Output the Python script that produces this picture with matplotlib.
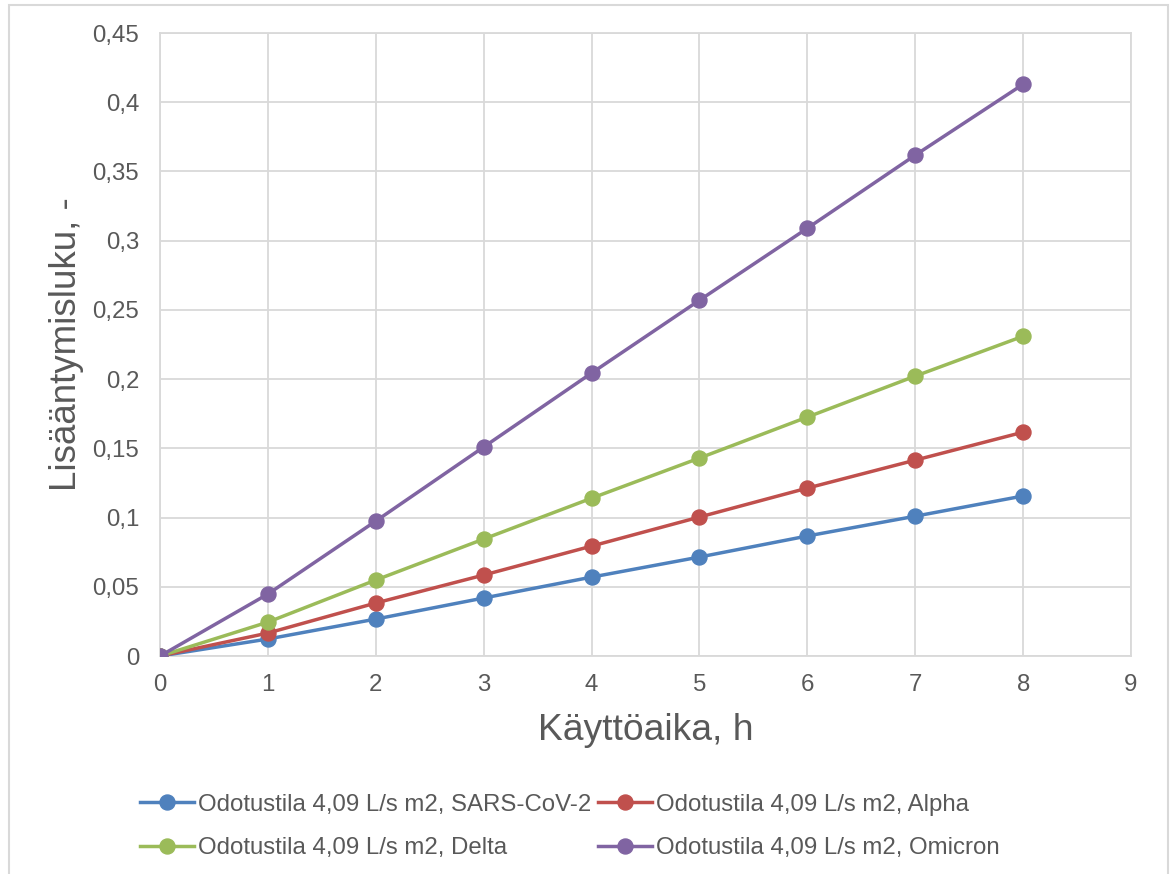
import matplotlib
matplotlib.use('Agg')
import matplotlib.pyplot as plt
from matplotlib.patches import Rectangle
from matplotlib.ticker import FuncFormatter

plt.rcParams['font.family'] = ['Liberation Sans', 'DejaVu Sans']

# data
hours = [0, 1, 2, 3, 4, 5, 6, 7, 8]
sars = [0, 0.0123, 0.0267, 0.0419, 0.0570, 0.0715, 0.0867, 0.1010, 0.1156]
alpha = [0, 0.0166, 0.0383, 0.0585, 0.0794, 0.1004, 0.1213, 0.1415, 0.1617]
delta = [0, 0.0245, 0.0549, 0.0845, 0.1140, 0.1430, 0.1726, 0.2022, 0.2310]
omicron = [0, 0.0448, 0.0975, 0.1510, 0.2044, 0.2570, 0.3090, 0.3618, 0.4130]
names = ['Odotustila 4,09 L/s m2, SARS-CoV-2', 'Odotustila 4,09 L/s m2, Alpha',
         'Odotustila 4,09 L/s m2, Delta', 'Odotustila 4,09 L/s m2, Omicron']
colors = ['#4F81BD', '#C0504D', '#9BBB59', '#8064A2']

fig = plt.figure(figsize=(11.7, 8.74), dpi=100)
ax = fig.add_axes([0.1368, 0.2494, 0.8299, 0.7128])

# chart area border (no bottom edge visible)
fig.patches.append(Rectangle((9/1170, -0.05), (1168-9)/1170, 1.05 - 5/874,
                             transform=fig.transFigure, fill=False,
                             edgecolor='#D9D9D9', linewidth=1.5))

lines = []
for ys, name, c in zip([sars, alpha, delta, omicron], names, colors):
    l, = ax.plot(hours, ys, color=c, linewidth=2.5, marker='o', markersize=10.8,
                 label=name, zorder=3)
    lines.append(l)

ax.set_xlim(0, 9)
ax.set_ylim(0, 0.45)
ax.set_xticks(range(0, 10))
ax.set_yticks([i * 0.05 for i in range(10)])
ax.yaxis.set_major_formatter(FuncFormatter(lambda v, p: ('%g' % round(v, 2)).replace('.', ',')))
ax.grid(True, color='#D9D9D9', linewidth=1.3)
ax.set_axisbelow(True)
for s in ax.spines.values():
    s.set_color('#D9D9D9')
    s.set_linewidth(1.3)
ax.tick_params(length=0, labelsize=17.3, labelcolor='#595959')
ax.tick_params(axis='x', pad=13)
ax.tick_params(axis='y', pad=15)

ax.set_xlabel('Käyttöaika, h', fontsize=26.8, color='#595959', labelpad=12)
ax.set_ylabel('Lisääntymisluku, -', fontsize=26.5, color='#595959', labelpad=6)

# legend rows: SARS / Alpha, Delta / Omicron (matplotlib fills by column)
order = [0, 2, 1, 3]
fig.legend([lines[i] for i in order], [names[i] for i in order],
           loc='upper center', bbox_to_anchor=(0.487, 0.103), ncol=2, frameon=False,
           fontsize=17.3, labelcolor='#595959', handlelength=2.25, handletextpad=0.17,
           columnspacing=0.3, labelspacing=0.9, borderaxespad=0)

plt.savefig('out.png', dpi=100)
